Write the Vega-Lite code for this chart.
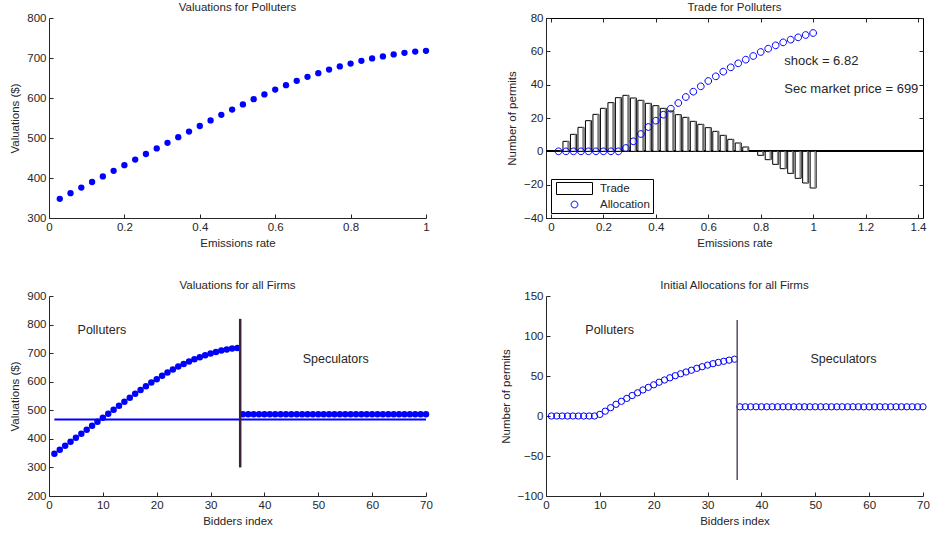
{
  "$schema": "https://vega.github.io/schema/vega-lite/v6.json",
  "padding": {"left": 9, "top": 1, "right": 0, "bottom": 0},
  "background": "white",
  "config": {
    "font": "Liberation Sans",
    "view": {"stroke": null},
    "axis": {"domainColor": "#262626", "tickColor": "#262626", "labelColor": "#262626", "titleColor": "#262626", "labelFontSize": 11.5, "titleFontSize": 11.5, "titleFontWeight": "normal", "tickSize": -4, "labelPadding": 7, "grid": false, "labelFont": "Liberation Sans", "titleFont": "Liberation Sans", "labelFlush": false, "labelOverlap": false, "format": "~r"},
    "axisY": {"titlePadding": 6},
    "axisX": {"titlePadding": 5},
    "title": {"fontSize": 11.5, "fontWeight": "normal", "font": "Liberation Sans", "color": "#262626", "offset": -1},
    "legend": {"orient": "bottom-left", "offset": 5, "padding": 3, "strokeColor": "black", "fillColor": "white", "labelFontSize": 11.5, "labelFont": "Liberation Sans", "labelColor": "#262626", "symbolSize": 144, "symbolOffset": 14, "labelOffset": 19, "rowPadding": 1, "title": null, "cornerRadius": 0, "symbolStrokeWidth": 1}
  },
  "datasets": {
    "polluters": [
      {"i": 1, "e": 0.0286, "val": 348, "alloc": 0, "trade": 0.5},
      {"i": 2, "e": 0.0571, "val": 362, "alloc": 0, "trade": 6},
      {"i": 3, "e": 0.0857, "val": 376, "alloc": 0, "trade": 10.2},
      {"i": 4, "e": 0.1143, "val": 390, "alloc": 0, "trade": 14.4},
      {"i": 5, "e": 0.1429, "val": 404, "alloc": 0, "trade": 18.4},
      {"i": 6, "e": 0.1714, "val": 418, "alloc": 0, "trade": 22.2},
      {"i": 7, "e": 0.2, "val": 432, "alloc": 0, "trade": 25.8},
      {"i": 8, "e": 0.2286, "val": 446, "alloc": 0, "trade": 29.2},
      {"i": 9, "e": 0.2571, "val": 460, "alloc": 0, "trade": 32.2},
      {"i": 10, "e": 0.2857, "val": 474, "alloc": 2, "trade": 33.6},
      {"i": 11, "e": 0.3143, "val": 488, "alloc": 6, "trade": 32},
      {"i": 12, "e": 0.3429, "val": 502, "alloc": 10.4, "trade": 30.6},
      {"i": 13, "e": 0.3714, "val": 516, "alloc": 14.6, "trade": 28.8},
      {"i": 14, "e": 0.4, "val": 530, "alloc": 18.4, "trade": 27.4},
      {"i": 15, "e": 0.4286, "val": 544, "alloc": 22, "trade": 25.8},
      {"i": 16, "e": 0.4571, "val": 558, "alloc": 25.6, "trade": 24.2},
      {"i": 17, "e": 0.4857, "val": 571, "alloc": 29, "trade": 22},
      {"i": 18, "e": 0.5143, "val": 584, "alloc": 32.6, "trade": 20.4},
      {"i": 19, "e": 0.5429, "val": 597, "alloc": 35.8, "trade": 18},
      {"i": 20, "e": 0.5714, "val": 609, "alloc": 39, "trade": 16.2},
      {"i": 21, "e": 0.6, "val": 621, "alloc": 42.2, "trade": 14.2},
      {"i": 22, "e": 0.6286, "val": 632, "alloc": 45, "trade": 12},
      {"i": 23, "e": 0.6571, "val": 643, "alloc": 47.8, "trade": 9.6},
      {"i": 24, "e": 0.6857, "val": 653, "alloc": 50.4, "trade": 7.2},
      {"i": 25, "e": 0.7143, "val": 662, "alloc": 52.8, "trade": 5},
      {"i": 26, "e": 0.7429, "val": 671, "alloc": 55, "trade": 2.6},
      {"i": 27, "e": 0.7714, "val": 679, "alloc": 57.2, "trade": 0},
      {"i": 28, "e": 0.8, "val": 686, "alloc": 59.6, "trade": -2.4},
      {"i": 29, "e": 0.8286, "val": 693, "alloc": 61.6, "trade": -5},
      {"i": 30, "e": 0.8571, "val": 699, "alloc": 63.6, "trade": -7.8},
      {"i": 31, "e": 0.8857, "val": 704, "alloc": 65.4, "trade": -10.4},
      {"i": 32, "e": 0.9143, "val": 709, "alloc": 67, "trade": -13.2},
      {"i": 33, "e": 0.9429, "val": 713, "alloc": 68.4, "trade": -16.2},
      {"i": 34, "e": 0.9714, "val": 716, "alloc": 69.8, "trade": -19},
      {"i": 35, "e": 1, "val": 718, "alloc": 71, "trade": -22}
    ],
    "firms": [
      {"i": 1, "val": 348, "alloc": 0}, {"i": 2, "val": 362, "alloc": 0}, {"i": 3, "val": 376, "alloc": 0},
      {"i": 4, "val": 390, "alloc": 0}, {"i": 5, "val": 404, "alloc": 0}, {"i": 6, "val": 418, "alloc": 0},
      {"i": 7, "val": 432, "alloc": 0}, {"i": 8, "val": 446, "alloc": 0}, {"i": 9, "val": 460, "alloc": 0},
      {"i": 10, "val": 474, "alloc": 2}, {"i": 11, "val": 488, "alloc": 6}, {"i": 12, "val": 502, "alloc": 10.4},
      {"i": 13, "val": 516, "alloc": 14.6}, {"i": 14, "val": 530, "alloc": 18.4}, {"i": 15, "val": 544, "alloc": 22},
      {"i": 16, "val": 558, "alloc": 25.6}, {"i": 17, "val": 571, "alloc": 29}, {"i": 18, "val": 584, "alloc": 32.6},
      {"i": 19, "val": 597, "alloc": 35.8}, {"i": 20, "val": 609, "alloc": 39}, {"i": 21, "val": 621, "alloc": 42.2},
      {"i": 22, "val": 632, "alloc": 45}, {"i": 23, "val": 643, "alloc": 47.8}, {"i": 24, "val": 653, "alloc": 50.4},
      {"i": 25, "val": 662, "alloc": 52.8}, {"i": 26, "val": 671, "alloc": 55}, {"i": 27, "val": 679, "alloc": 57.2},
      {"i": 28, "val": 686, "alloc": 59.6}, {"i": 29, "val": 693, "alloc": 61.6}, {"i": 30, "val": 699, "alloc": 63.6},
      {"i": 31, "val": 704, "alloc": 65.4}, {"i": 32, "val": 709, "alloc": 67}, {"i": 33, "val": 713, "alloc": 68.4},
      {"i": 34, "val": 716, "alloc": 69.8}, {"i": 35, "val": 718, "alloc": 71},
      {"i": 36, "val": 486, "alloc": 11.5}, {"i": 37, "val": 486, "alloc": 11.5}, {"i": 38, "val": 486, "alloc": 11.5},
      {"i": 39, "val": 486, "alloc": 11.5}, {"i": 40, "val": 486, "alloc": 11.5}, {"i": 41, "val": 486, "alloc": 11.5},
      {"i": 42, "val": 486, "alloc": 11.5}, {"i": 43, "val": 486, "alloc": 11.5}, {"i": 44, "val": 486, "alloc": 11.5},
      {"i": 45, "val": 486, "alloc": 11.5}, {"i": 46, "val": 486, "alloc": 11.5}, {"i": 47, "val": 486, "alloc": 11.5},
      {"i": 48, "val": 486, "alloc": 11.5}, {"i": 49, "val": 486, "alloc": 11.5}, {"i": 50, "val": 486, "alloc": 11.5},
      {"i": 51, "val": 486, "alloc": 11.5}, {"i": 52, "val": 486, "alloc": 11.5}, {"i": 53, "val": 486, "alloc": 11.5},
      {"i": 54, "val": 486, "alloc": 11.5}, {"i": 55, "val": 486, "alloc": 11.5}, {"i": 56, "val": 486, "alloc": 11.5},
      {"i": 57, "val": 486, "alloc": 11.5}, {"i": 58, "val": 486, "alloc": 11.5}, {"i": 59, "val": 486, "alloc": 11.5},
      {"i": 60, "val": 486, "alloc": 11.5}, {"i": 61, "val": 486, "alloc": 11.5}, {"i": 62, "val": 486, "alloc": 11.5},
      {"i": 63, "val": 486, "alloc": 11.5}, {"i": 64, "val": 486, "alloc": 11.5}, {"i": 65, "val": 486, "alloc": 11.5},
      {"i": 66, "val": 486, "alloc": 11.5}, {"i": 67, "val": 486, "alloc": 11.5}, {"i": 68, "val": 486, "alloc": 11.5},
      {"i": 69, "val": 486, "alloc": 11.5}, {"i": 70, "val": 486, "alloc": 11.5}
    ]
  },
  "columns": 2,
  "spacing": {"row": 78, "column": 120},
  "bounds": "flush",
  "resolve": {"legend": {"stroke": "independent", "shape": "independent"}, "scale": {"stroke": "independent", "shape": "independent"}},
  "concat": [
    {
      "title": "Valuations for Polluters",
      "width": 377,
      "height": 200,
      "data": {"name": "polluters"},
      "mark": {"type": "circle", "size": 40, "color": "#0000ff", "opacity": 1},
      "encoding": {
        "x": {"field": "e", "type": "quantitative", "scale": {"domain": [0, 1], "nice": false}, "axis": {"title": "Emissions rate", "values": [0, 0.2, 0.4, 0.6, 0.8, 1]}},
        "y": {"field": "val", "type": "quantitative", "scale": {"domain": [300, 800], "nice": false, "zero": false}, "axis": {"title": "Valuations ($)", "values": [300, 400, 500, 600, 700, 800]}}
      }
    },
    {
      "title": "Trade for Polluters",
      "width": 377,
      "height": 200,
      "view": {"stroke": "black", "strokeWidth": 1},
      "resolve": {"axis": {"x": "independent", "y": "independent"}},
      "layer": [
        {
          "data": {"name": "polluters"},
          "mark": {"type": "rule", "color": "black", "strokeWidth": 1},
          "encoding": {"y": {"datum": 0, "type": "quantitative", "scale": {"domain": [-40, 80], "nice": false}, "axis": null}}
        },
        {
          "data": {"name": "polluters"},
          "mark": {"type": "bar", "size": 6, "fill": "white", "strokeWidth": 1},
          "encoding": {
            "x": {"field": "e", "type": "quantitative", "scale": {"domain": [0, 1.4], "nice": false}, "axis": {"title": "Emissions rate", "values": [0, 0.2, 0.4, 0.6, 0.8, 1, 1.2, 1.4]}},
            "y": {"field": "trade", "type": "quantitative", "scale": {"domain": [-40, 80], "nice": false}, "axis": {"title": "Number of permits", "values": [-40, -20, 0, 20, 40, 60, 80]}},
            "stroke": {"datum": "Trade", "type": "nominal", "scale": {"domain": ["Trade", "Allocation"], "range": ["black", "#0000ff"]}}
          }
        },
        {
          "data": {"name": "polluters"},
          "mark": {"type": "bar", "size": 1.5, "fill": "#8a8a8a", "xOffset": 2, "opacity": 1},
          "encoding": {
            "x": {"field": "e", "type": "quantitative", "scale": {"domain": [0, 1.4], "nice": false}, "axis": null},
            "y": {"field": "trade", "type": "quantitative", "scale": {"domain": [-40, 80], "nice": false}, "axis": null}
          }
        },
        {
          "data": {"name": "polluters"},
          "mark": {"type": "point", "filled": false, "size": 144, "strokeWidth": 1, "opacity": 1},
          "encoding": {
            "x": {"field": "e", "type": "quantitative", "scale": {"domain": [0, 1.4], "nice": false}, "axis": {"orient": "top", "labels": false, "title": null, "domain": false, "values": [0, 0.2, 0.4, 0.6, 0.8, 1, 1.2, 1.4]}},
            "y": {"field": "alloc", "type": "quantitative", "scale": {"domain": [-40, 80], "nice": false}, "axis": {"orient": "right", "labels": false, "title": null, "domain": false, "values": [-40, -20, 0, 20, 40, 60, 80]}},
            "stroke": {"datum": "Allocation", "type": "nominal", "scale": {"domain": ["Trade", "Allocation"], "range": ["black", "#0000ff"]}},
            "shape": {"datum": "Allocation", "type": "nominal", "scale": {"domain": ["Trade", "Allocation"], "range": ["M-3,-1H3V1H-3Z", "M-0.56,0A0.56,0.56,0,1,1,0.56,0A0.56,0.56,0,1,1,-0.56,0Z"]}}
          }
        },
        {
          "data": {"values": [{"x": 0.89, "y": 54.4, "label": "shock = 6.82"}, {"x": 0.89, "y": 37.4, "label": "Sec market price = 699"}]},
          "mark": {"type": "text", "align": "left", "baseline": "middle", "fontSize": 13, "font": "Liberation Sans", "color": "#262626"},
          "encoding": {
            "x": {"field": "x", "type": "quantitative", "scale": {"domain": [0, 1.4], "nice": false}, "axis": null},
            "y": {"field": "y", "type": "quantitative", "scale": {"domain": [-40, 80], "nice": false}, "axis": null},
            "text": {"field": "label"}
          }
        }
      ]
    },
    {
      "title": "Valuations for all Firms",
      "width": 377,
      "height": 200,
      "layer": [
        {
          "data": {"values": [{"x1": 1, "x2": 70, "v": 468}]},
          "mark": {"type": "rule", "color": "#0000ff", "strokeWidth": 2},
          "encoding": {
            "x": {"field": "x1", "type": "quantitative", "scale": {"domain": [0, 70], "nice": false}, "axis": {"title": "Bidders index", "values": [0, 10, 20, 30, 40, 50, 60, 70]}},
            "x2": {"field": "x2"},
            "y": {"field": "v", "type": "quantitative", "scale": {"domain": [200, 900], "nice": false, "zero": false}, "axis": {"title": "Valuations ($)", "values": [200, 300, 400, 500, 600, 700, 800, 900]}}
          }
        },
        {
          "data": {"name": "firms"},
          "mark": {"type": "circle", "size": 42, "color": "#0000ff", "opacity": 1},
          "encoding": {
            "x": {"field": "i", "type": "quantitative", "scale": {"domain": [0, 70], "nice": false}, "axis": {"title": "Bidders index", "values": [0, 10, 20, 30, 40, 50, 60, 70]}},
            "y": {"field": "val", "type": "quantitative", "scale": {"domain": [200, 900], "nice": false, "zero": false}, "axis": {"title": "Valuations ($)", "values": [200, 300, 400, 500, 600, 700, 800, 900]}}
          }
        },
        {
          "data": {"values": [{"x": 35.5, "y1": 300, "y2": 820}]},
          "mark": {"type": "rule", "color": "#3b2238", "strokeWidth": 2.5},
          "encoding": {
            "x": {"field": "x", "type": "quantitative", "scale": {"domain": [0, 70], "nice": false}, "axis": {"title": "Bidders index", "values": [0, 10, 20, 30, 40, 50, 60, 70]}},
            "y": {"field": "y1", "type": "quantitative", "scale": {"domain": [200, 900], "nice": false, "zero": false}, "axis": {"title": "Valuations ($)", "values": [200, 300, 400, 500, 600, 700, 800, 900]}},
            "y2": {"field": "y2"}
          }
        },
        {
          "data": {"values": [{"x": 5.3, "y": 780, "label": "Polluters"}, {"x": 47.1, "y": 680.6, "label": "Speculators"}]},
          "mark": {"type": "text", "align": "left", "baseline": "middle", "fontSize": 12.5, "font": "Liberation Sans", "color": "#262626"},
          "encoding": {
            "x": {"field": "x", "type": "quantitative", "scale": {"domain": [0, 70], "nice": false}, "axis": {"title": "Bidders index", "values": [0, 10, 20, 30, 40, 50, 60, 70]}},
            "y": {"field": "y", "type": "quantitative", "scale": {"domain": [200, 900], "nice": false, "zero": false}, "axis": {"title": "Valuations ($)", "values": [200, 300, 400, 500, 600, 700, 800, 900]}},
            "text": {"field": "label"}
          }
        }
      ]
    },
    {
      "title": "Initial Allocations for all Firms",
      "width": 377,
      "height": 200,
      "layer": [
        {
          "data": {"name": "firms"},
          "mark": {"type": "point", "shape": "circle", "filled": false, "size": 40, "color": "#0000ff", "strokeWidth": 1, "opacity": 1},
          "encoding": {
            "x": {"field": "i", "type": "quantitative", "scale": {"domain": [0, 70], "nice": false}, "axis": {"title": "Bidders index", "values": [0, 10, 20, 30, 40, 50, 60, 70]}},
            "y": {"field": "alloc", "type": "quantitative", "scale": {"domain": [-100, 150], "nice": false}, "axis": {"title": "Number of permits", "values": [-100, -50, 0, 50, 100, 150]}}
          }
        },
        {
          "data": {"values": [{"x": 35.5, "y1": -80, "y2": 120}]},
          "mark": {"type": "rule", "color": "#5a4a6a", "strokeWidth": 1.5},
          "encoding": {
            "x": {"field": "x", "type": "quantitative", "scale": {"domain": [0, 70], "nice": false}, "axis": {"title": "Bidders index", "values": [0, 10, 20, 30, 40, 50, 60, 70]}},
            "y": {"field": "y1", "type": "quantitative", "scale": {"domain": [-100, 150], "nice": false}, "axis": {"title": "Number of permits", "values": [-100, -50, 0, 50, 100, 150]}},
            "y2": {"field": "y2"}
          }
        },
        {
          "data": {"values": [{"x": 7.3, "y": 107, "label": "Polluters"}, {"x": 49.1, "y": 71.7, "label": "Speculators"}]},
          "mark": {"type": "text", "align": "left", "baseline": "middle", "fontSize": 12.5, "font": "Liberation Sans", "color": "#262626"},
          "encoding": {
            "x": {"field": "x", "type": "quantitative", "scale": {"domain": [0, 70], "nice": false}, "axis": {"title": "Bidders index", "values": [0, 10, 20, 30, 40, 50, 60, 70]}},
            "y": {"field": "y", "type": "quantitative", "scale": {"domain": [-100, 150], "nice": false}, "axis": {"title": "Number of permits", "values": [-100, -50, 0, 50, 100, 150]}},
            "text": {"field": "label"}
          }
        }
      ]
    }
  ]
}
